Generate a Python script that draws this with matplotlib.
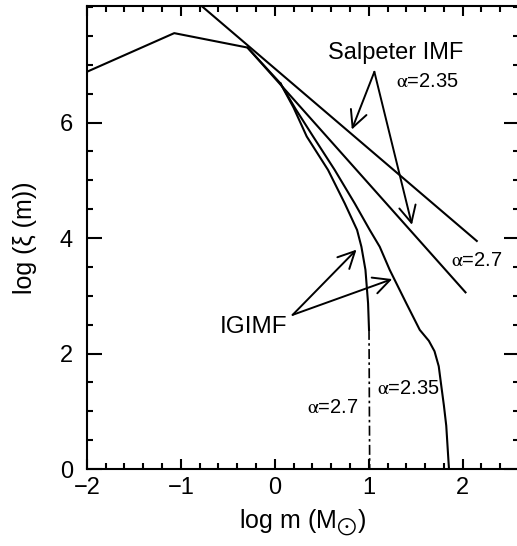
import numpy as np
import matplotlib
matplotlib.use("Agg")
import matplotlib.pyplot as plt
from matplotlib.ticker import MultipleLocator, FixedLocator

plt.rcParams['font.family'] = ['Liberation Sans', 'DejaVu Sans']
plt.rcParams['mathtext.fontset'] = 'stix'

# canonical (Kroupa-like) IMF at low masses
kroupa_logm = [-2.0, -1.07, -0.29, 0.06]
kroupa_logxi = [6.88, 7.55, 7.30, 6.68]

# Salpeter power laws
salp235_logm = [-0.80, 2.15]
salp235_logxi = [8.05, 3.95]
salp27_logm = [-0.29, 2.03]
salp27_logxi = [7.30, 3.06]

# IGIMF, alpha = 2.7 (solid part, then dash-dot drop)
igimf27_logm = [0.06, 0.20, 0.34, 0.567, 0.745, 0.876, 0.922, 0.965, 0.993, 1.003]
igimf27_logxi = [6.68, 6.26, 5.76, 5.18, 4.60, 4.14, 3.85, 3.45, 2.87, 2.41]
igimf27_drop_logm = [1.003, 1.01]
igimf27_drop_logxi = [2.41, 0.0]

# IGIMF, alpha = 2.35
igimf235_logm = [0.06, 0.22, 0.408, 0.638, 0.851, 1.011, 1.117, 1.223, 1.40,
                 1.543, 1.64, 1.70, 1.745, 1.773, 1.80, 1.825, 1.854]
igimf235_logxi = [6.68, 6.24, 5.76, 5.18, 4.60, 4.14, 3.85, 3.45, 2.87,
                  2.41, 2.22, 2.04, 1.78, 1.43, 1.10, 0.75, 0.0]

fig = plt.figure(figsize=(5.17, 5.46), dpi=100)
ax = fig.add_axes([0.168, 0.141, 0.836, 0.848])

lw = 1.5
ax.plot(kroupa_logm, kroupa_logxi, color='black', lw=lw)
ax.plot(salp235_logm, salp235_logxi, color='black', lw=lw)
ax.plot(salp27_logm, salp27_logxi, color='black', lw=lw)
ax.plot(igimf27_logm, igimf27_logxi, color='black', lw=lw)
ax.plot(igimf27_drop_logm, igimf27_drop_logxi, color='black', lw=1.2,
        linestyle=(0, (6, 2, 1.5, 2)))
ax.plot(igimf235_logm, igimf235_logxi, color='black', lw=lw)

ax.set_xlim(-2, 2.6)
ax.set_ylim(0, 8.02)

ax.xaxis.set_major_locator(MultipleLocator(1))
ax.xaxis.set_minor_locator(MultipleLocator(0.2))
ax.yaxis.set_major_locator(FixedLocator([0, 2, 4, 6]))
ax.yaxis.set_minor_locator(MultipleLocator(0.5))
ax.tick_params(axis='both', which='both', direction='in', top=True, right=True,
               width=1.5, labelsize=17)
ax.tick_params(axis='x', which='major', length=7, pad=6)
ax.tick_params(axis='x', which='minor', length=4)
ax.tick_params(axis='y', which='major', length=11, pad=10)
ax.tick_params(axis='y', which='minor', length=4)
for s in ax.spines.values():
    s.set_linewidth(1.5)

ax.set_xlabel(r'log m (M$_{\bigodot}$)', fontsize=18, labelpad=6)
ax.set_ylabel('log (ξ (m))', fontsize=18, labelpad=16)

arrow = dict(arrowstyle='->,head_length=0.6,head_width=0.3', color='black',
             lw=1.4, shrinkA=0, shrinkB=0, mutation_scale=20)

ax.text(1.29, 7.2, 'Salpeter IMF', fontsize=17, ha='center', va='center')
ax.annotate('', xy=(0.82, 5.88), xytext=(1.06, 6.88), arrowprops=arrow)
ax.annotate('', xy=(1.46, 4.23), xytext=(1.06, 6.88), arrowprops=arrow)
ax.text(1.62, 6.72, r'$\mathrm{\alpha}$=2.35', fontsize=14.5, ha='center', va='center')
ax.text(2.15, 3.62, r'$\mathrm{\alpha}$=2.7', fontsize=14.5, ha='center', va='center')

ax.text(-0.23, 2.46, 'IGIMF', fontsize=17.5, ha='center', va='center')
ax.annotate('', xy=(0.87, 3.80), xytext=(0.19, 2.67), arrowprops=arrow)
ax.annotate('', xy=(1.25, 3.29), xytext=(0.19, 2.67), arrowprops=arrow)
ax.text(0.62, 1.06, r'$\mathrm{\alpha}$=2.7', fontsize=14.5, ha='center', va='center')
ax.text(1.42, 1.40, r'$\mathrm{\alpha}$=2.35', fontsize=14.5, ha='center', va='center')

fig.savefig('out.png', dpi=100)
